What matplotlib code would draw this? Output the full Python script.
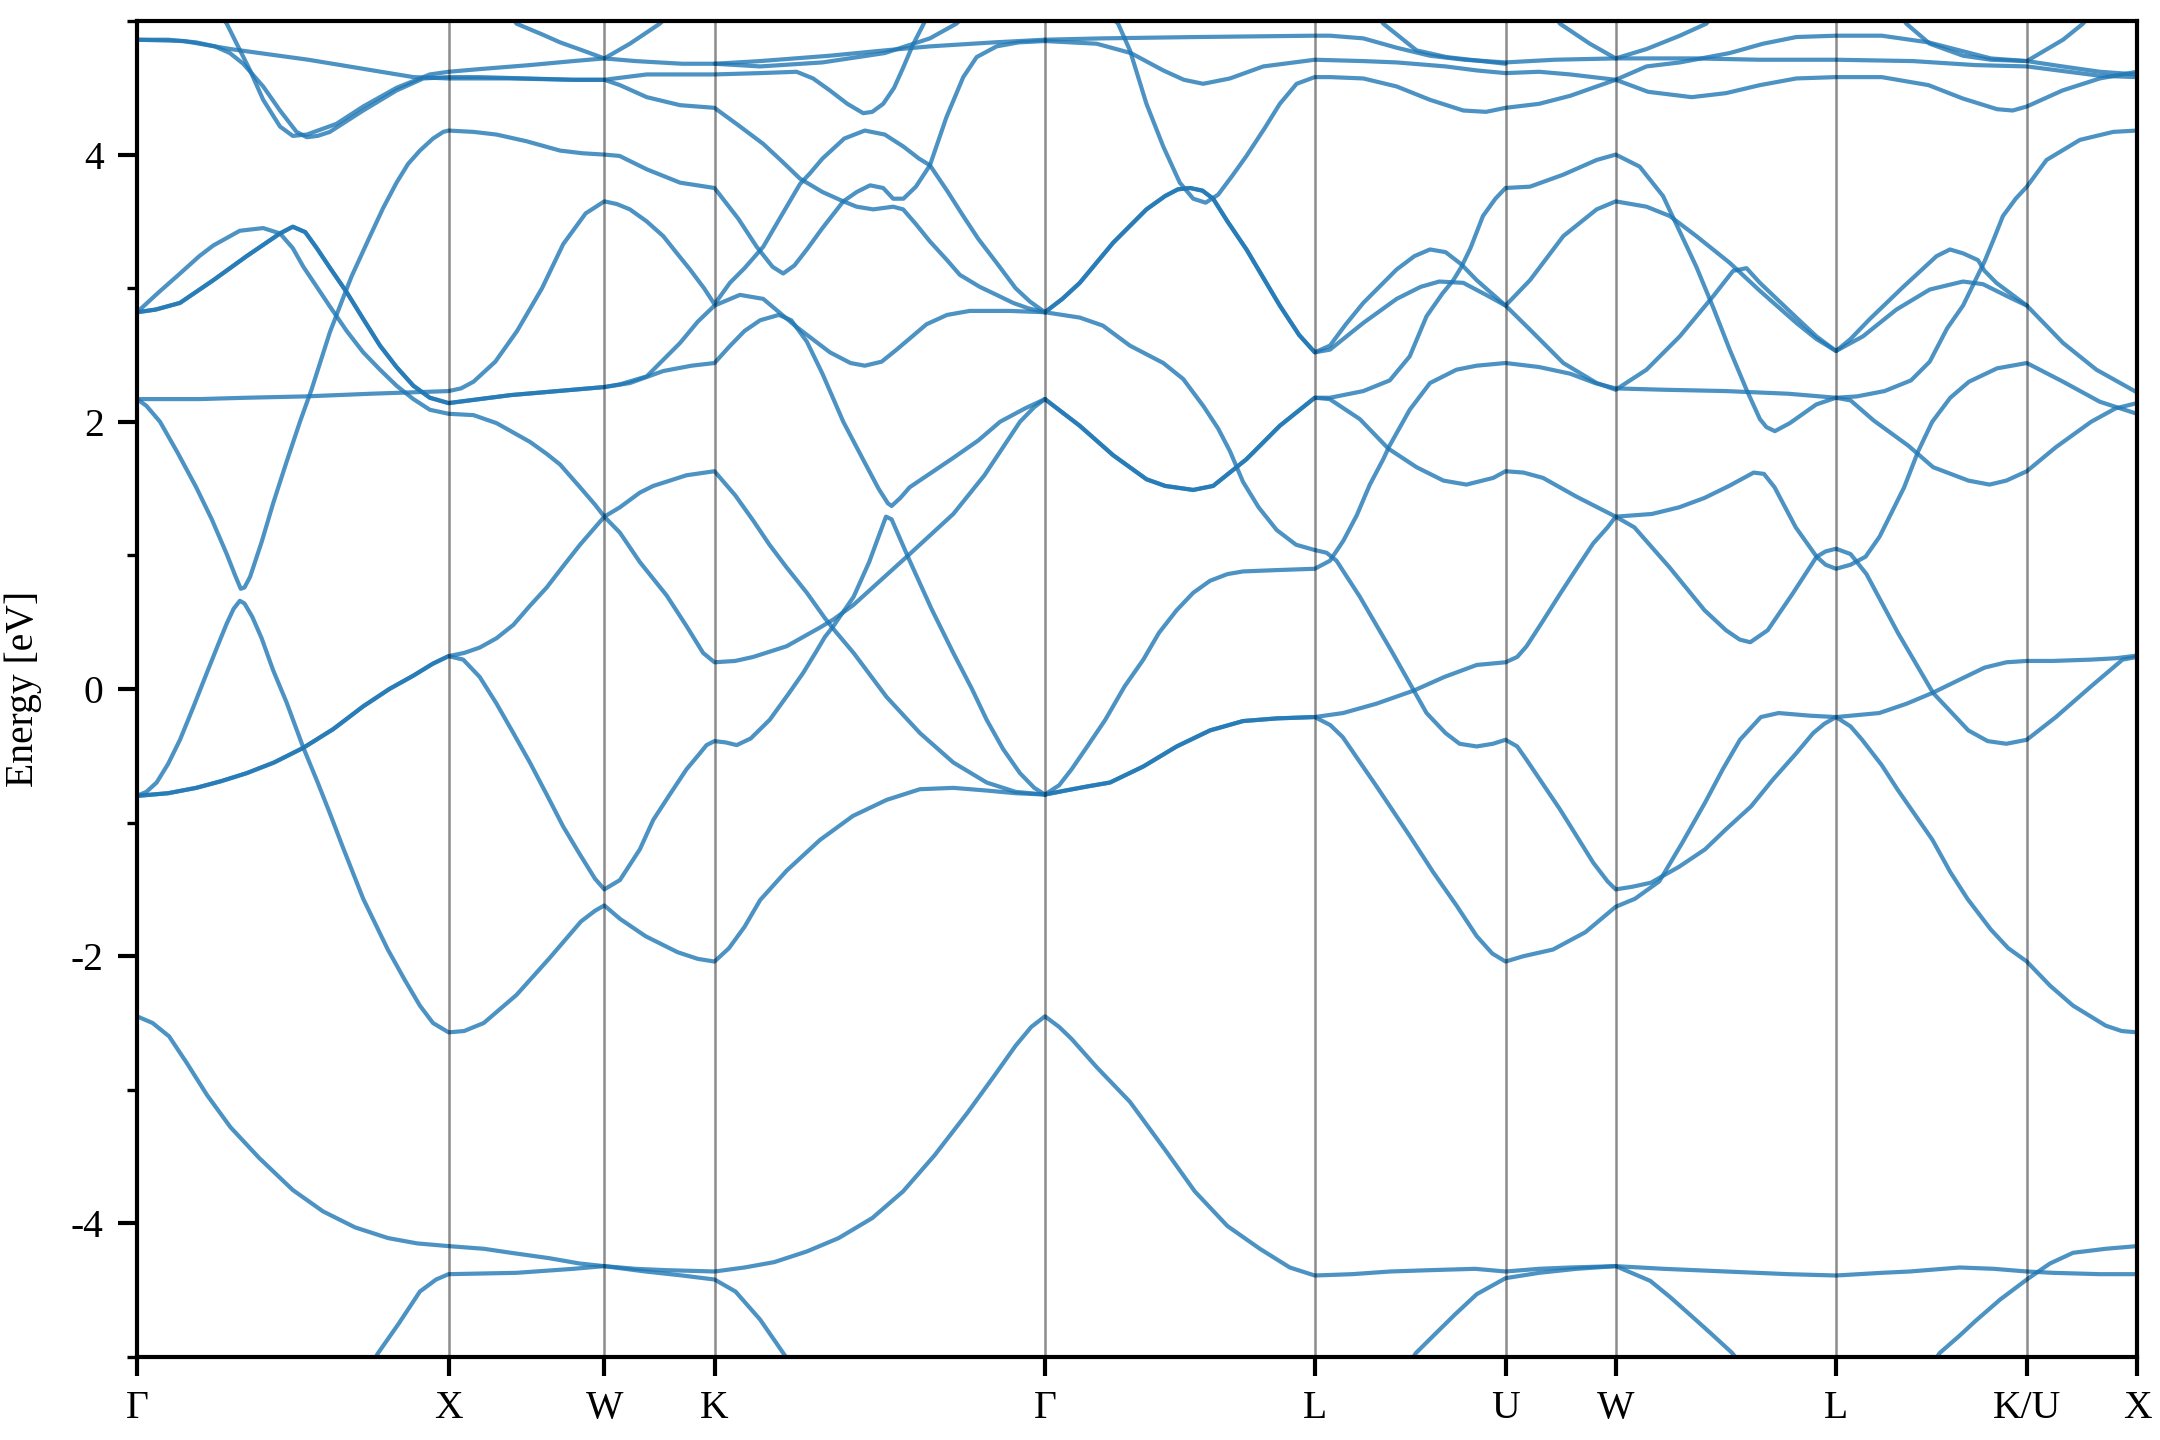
import matplotlib
matplotlib.use("Agg")
import matplotlib.pyplot as plt
from matplotlib.ticker import MultipleLocator

plt.rcParams['font.family'] = ['Liberation Serif', 'DejaVu Serif']
plt.rcParams['axes.unicode_minus'] = False

# ---------------- high-symmetry path ----------------
hs_labels = ["Γ", "X", "W", "K", "Γ", "L", "U", "W", "L", "K/U", "X"]
hs_k = [0.0, 1.0, 1.5, 1.8536, 2.9142, 3.7802, 4.3926, 4.7462, 5.4533, 6.0657, 6.4193]

# ---------------- band data: (k, E) ----------------
# lowest (s-like) band over the whole path
s_band = [(0.0,-2.45),(0.05,-2.5),(0.103,-2.6),(0.16,-2.8),(0.225,-3.04),(0.3,-3.28),(0.392,-3.51),(0.5,-3.75),
          (0.597,-3.91),(0.7,-4.03),(0.806,-4.11),(0.9,-4.15),(1.0,-4.17),
          (1.113,-4.19),(1.2,-4.22),(1.322,-4.26),(1.42,-4.3),(1.5,-4.32),
          (1.6,-4.34),(1.7,-4.35),(1.8536,-4.36),
          (1.95,-4.33),(2.045,-4.29),(2.15,-4.21),(2.252,-4.11),(2.36,-3.96),(2.459,-3.76),(2.56,-3.49),
          (2.666,-3.17),(2.75,-2.9),(2.82,-2.67),(2.87,-2.53),(2.9142,-2.45),
          (2.96,-2.53),(3.0,-2.62),(3.08,-2.83),(3.187,-3.09),(3.3,-3.45),(3.395,-3.76),(3.5,-4.02),
          (3.604,-4.19),(3.7,-4.33),(3.7802,-4.39),
          (3.9,-4.38),(4.022,-4.36),(4.15,-4.35),(4.295,-4.34),(4.3926,-4.36),
          (4.5,-4.34),(4.6,-4.33),(4.7462,-4.32),
          (4.9,-4.34),(5.1,-4.36),(5.3,-4.38),(5.4533,-4.39),
          (5.6,-4.37),(5.69,-4.36),(5.85,-4.33),(5.96,-4.34),(6.0657,-4.36),
          (6.15,-4.37),(6.3,-4.38),(6.4193,-4.38)]
low_a = [(0.74,-5.1),(0.774,-4.97),(0.84,-4.75),(0.908,-4.51),(0.96,-4.42),(1.0,-4.38),(1.218,-4.37),(1.4,-4.34),
         (1.5,-4.32),(1.632,-4.36),(1.75,-4.39),(1.8536,-4.42),(1.921,-4.51),(2.0,-4.72),(2.077,-4.98),(2.1,-5.06)]
low_b = [(4.08,-5.06),(4.105,-4.97),(4.17,-4.82),(4.231,-4.68),(4.3,-4.53),(4.3926,-4.41),(4.5,-4.37),(4.62,-4.34),
         (4.7462,-4.32),(4.857,-4.43),(4.92,-4.55),(4.983,-4.68),(5.05,-4.82),(5.12,-4.97),(5.14,-5.03)]
low_c = [(5.76,-5.06),(5.786,-4.97),(5.85,-4.84),(5.901,-4.73),(5.98,-4.57),(6.0657,-4.42),(6.14,-4.3),(6.214,-4.22),
         (6.319,-4.19),(6.4193,-4.17)]

# Gamma-X
gx_lambda = [(0.0,-0.8),(0.03,-0.77),(0.063,-0.70),(0.1,-0.56),(0.138,-0.38),(0.18,-0.14),(0.224,0.12),(0.26,0.33),
             (0.288,0.49),(0.31,0.6),(0.33,0.66),(0.345,0.64),(0.37,0.54),(0.4,0.38),(0.437,0.14),(0.48,-0.1),
             (0.534,-0.44),(0.58,-0.7),(0.619,-0.93),(0.66,-1.18),(0.726,-1.57),(0.805,-1.95),(0.86,-2.18),
             (0.908,-2.37),(0.95,-2.5),(1.0,-2.57)]
gx_b1 = [(0.0,-0.8),(0.1,-0.78),(0.19,-0.74),(0.27,-0.69),(0.352,-0.63),(0.44,-0.55),(0.534,-0.44),(0.63,-0.3),
         (0.726,-0.13),(0.81,0.0),(0.887,0.10),(0.95,0.19),(1.0,0.246)]
gx_v = [(0.0,2.17),(0.03,2.12),(0.074,2.0),(0.13,1.77),(0.19,1.51),(0.24,1.27),(0.288,1.01),(0.315,0.85),(0.333,0.75),
        (0.345,0.76),(0.363,0.84),(0.4,1.1),(0.437,1.39),(0.48,1.7),(0.523,2.0),(0.56,2.24),(0.619,2.67),(0.662,2.93),
        (0.689,3.09),(0.748,3.39),(0.79,3.6),(0.833,3.79),(0.87,3.93),(0.908,4.03),(0.95,4.12),(0.983,4.17),(1.0,4.18)]
gx_flat = [(0.0,2.17),(0.2,2.17),(0.35,2.18),(0.539,2.19),(0.75,2.21),(1.0,2.23)]
gx_i = [(0.0,2.82),(0.07,2.97),(0.138,3.11),(0.2,3.24),(0.245,3.32),(0.33,3.43),(0.405,3.45),(0.459,3.41),(0.5,3.3),
        (0.534,3.16),(0.58,3.0),(0.62,2.86),(0.673,2.68),(0.726,2.52),(0.78,2.39),(0.833,2.27),(0.887,2.17),
        (0.94,2.09),(1.0,2.06)]
gx_ii = [(0.0,2.82),(0.06,2.84),(0.138,2.89),(0.245,3.06),(0.352,3.24),(0.459,3.41),(0.5,3.46),(0.54,3.42),
         (0.577,3.3),(0.62,3.15),(0.673,2.97),(0.726,2.77),(0.78,2.57),(0.833,2.41),(0.887,2.27),(0.94,2.18),(1.0,2.14)]
gx_t1 = [(0.0,4.86),(0.15,4.85),(0.3,4.79),(0.55,4.71),(0.887,4.58),(1.0,4.57)]
gx_t2 = [(0.0,4.86),(0.1,4.86),(0.19,4.84),(0.25,4.81),(0.298,4.76),(0.341,4.68),(0.405,4.51),(0.459,4.33),
         (0.512,4.17),(0.545,4.13),(0.58,4.14),(0.619,4.17),(0.726,4.33),(0.833,4.48),(0.919,4.57),(1.0,4.58)]
gx_t3 = [(0.25,5.1),(0.288,4.98),(0.32,4.83),(0.363,4.63),(0.405,4.41),(0.459,4.21),(0.5,4.14),(0.545,4.15),
         (0.64,4.23),(0.726,4.36),(0.833,4.5),(0.94,4.6),(1.0,4.62)]

# X-W
xw_lambda = [(1.05,-2.56),(1.113,-2.5),(1.218,-2.29),(1.322,-2.02),(1.425,-1.74),(1.47,-1.66),(1.5,-1.62)]
xw_up = [(1.05,0.27),(1.1,0.31),(1.154,0.38),(1.208,0.48),(1.26,0.62),(1.315,0.76),(1.368,0.92),(1.422,1.08),(1.5,1.29)]
xw_down = [(1.047,0.22),(1.1,0.09),(1.154,-0.11),(1.208,-0.33),(1.261,-0.55),(1.315,-0.79),(1.368,-1.03),
           (1.422,-1.24),(1.47,-1.42),(1.5,-1.5)]
xw_i = [(1.08,2.05),(1.154,1.99),(1.261,1.85),(1.315,1.76),(1.358,1.68),(1.422,1.51),(1.47,1.38),(1.5,1.29)]
xw_ii = [(1.1,2.17),(1.2,2.2),(1.3,2.22),(1.4,2.24),(1.5,2.26)]
xw_steep = [(1.04,2.25),(1.08,2.3),(1.15,2.45),(1.22,2.68),(1.3,3.0),(1.368,3.33),(1.44,3.56),(1.5,3.65)]
xw_four = [(1.08,4.17),(1.154,4.15),(1.25,4.1),(1.358,4.03),(1.43,4.01),(1.5,4.0)]
xw_t1 = [(1.2,4.57),(1.4,4.56),(1.5,4.56)]
xw_t2 = [(1.1,4.58),(1.25,4.57),(1.4,4.56),(1.5,4.56)]
xw_t3 = [(1.1,4.64),(1.261,4.67),(1.4,4.7),(1.5,4.72)]
xw_top = [(1.2,5.05),(1.218,4.98),(1.3,4.9),(1.358,4.84),(1.43,4.78),(1.5,4.72),(1.582,4.83),(1.678,4.98),(1.7,5.03)]

# W-K
wk_lambda = [(1.55,-1.72),(1.632,-1.85),(1.735,-1.97),(1.8,-2.02),(1.8536,-2.04)]
wk_up = [(1.55,1.36),(1.614,1.47),(1.657,1.52),(1.764,1.60),(1.8536,1.63)]
wk_down = [(1.55,-1.43),(1.614,-1.2),(1.657,-0.98),(1.71,-0.79),(1.764,-0.6),(1.8,-0.5),(1.828,-0.42),(1.8536,-0.39)]
wk_i = [(1.55,1.17),(1.614,0.95),(1.7,0.7),(1.764,0.47),(1.817,0.27),(1.8536,0.2)]
wk_ii_a = [(1.582,2.29),(1.689,2.38),(1.78,2.42),(1.8536,2.44)]
wk_ii_b = [(1.55,2.28),(1.636,2.34),(1.743,2.59),(1.8,2.75),(1.8536,2.87)]
wk_steep = [(1.54,3.63),(1.582,3.59),(1.636,3.5),(1.689,3.39),(1.73,3.27),(1.775,3.14),(1.82,3.0),(1.8536,2.88)]
wk_four = [(1.549,3.99),(1.636,3.89),(1.743,3.79),(1.8536,3.75)]
wk_t1 = [(1.636,4.6),(1.743,4.6),(1.8536,4.6)]
wk_t2 = [(1.55,4.52),(1.636,4.43),(1.743,4.37),(1.8536,4.35)]
wk_t3 = [(1.6,4.70),(1.75,4.68),(1.8536,4.68)]

# K-Gamma
kg_lambda = [(1.9,-1.94),(1.95,-1.78),(2.0,-1.58),(2.085,-1.36),(2.192,-1.13),(2.298,-0.95),(2.406,-0.83),
             (2.513,-0.75),(2.62,-0.74),(2.727,-0.76),(2.82,-0.78),(2.9142,-0.79)]
kg_d1 = [(1.92,1.45),(1.978,1.26),(2.03,1.08),(2.085,0.91),(2.15,0.72),(2.208,0.53),(2.235,0.45),(2.3,0.27),
         (2.406,-0.06),(2.513,-0.33),(2.62,-0.55),(2.727,-0.70),(2.82,-0.77),(2.9142,-0.79)]
kg_d2 = [(1.92,0.21),(1.978,0.24),(2.085,0.32),(2.192,0.46),(2.235,0.52),(2.3,0.63),(2.352,0.74),(2.48,1.01),
         (2.62,1.31),(2.72,1.6),(2.834,2.0),(2.88,2.11),(2.9142,2.17)]
kg_d3 = [(1.89,-0.4),(1.925,-0.42),(1.97,-0.37),(2.031,-0.23),(2.09,-0.04),(2.138,0.12),(2.18,0.28),(2.208,0.39),
         (2.235,0.47),(2.3,0.69),(2.35,0.95),(2.38,1.14),(2.404,1.29),(2.422,1.27),(2.48,0.96),(2.55,0.6),
         (2.62,0.27),(2.68,0.0),(2.727,-0.23),(2.78,-0.45),(2.834,-0.63),(2.88,-0.74),(2.9142,-0.79)]
kg_d4 = [(1.9,2.56),(1.95,2.68),(2.0,2.76),(2.06,2.8),(2.1,2.76),(2.15,2.6),(2.2,2.36),(2.267,2.0),(2.33,1.72),
         (2.38,1.5),(2.41,1.39),(2.422,1.37),(2.45,1.43),(2.48,1.51),(2.55,1.62),(2.62,1.73),(2.7,1.86),(2.77,2.0),
         (2.85,2.1),(2.9142,2.17)]
kg_dip = [(1.935,2.95),(2.01,2.92),(2.117,2.71),(2.224,2.52),(2.29,2.44),(2.336,2.42),(2.39,2.45),(2.438,2.54),
          (2.534,2.73),(2.6,2.8),(2.673,2.83),(2.8,2.83),(2.9142,2.82)]
kg_c1 = [(1.93,4.22),(2.01,4.08),(2.07,3.95),(2.128,3.82),(2.2,3.72),(2.267,3.65),(2.31,3.61),(2.363,3.59),
         (2.427,3.61),(2.459,3.59),(2.5,3.48),(2.545,3.35),(2.6,3.21),(2.641,3.1),(2.705,3.01),(2.759,2.95),
         (2.812,2.89),(2.86,2.85),(2.9142,2.82)]
kg_c2 = [(1.903,3.04),(1.95,3.15),(2.01,3.31),(2.07,3.55),(2.128,3.78),(2.16,3.86),(2.2,3.97),(2.27,4.12),
         (2.336,4.18),(2.40,4.15),(2.46,4.06),(2.51,3.97),(2.545,3.92),(2.6,3.73),(2.652,3.54),(2.7,3.37),
         (2.759,3.19),(2.82,3.0),(2.866,2.9),(2.9142,2.82)]
kg_c3 = [(1.93,3.52),(1.989,3.31),(2.04,3.16),(2.074,3.11),(2.11,3.17),(2.15,3.29),(2.2,3.45),(2.267,3.65),
         (2.31,3.72),(2.353,3.77),(2.395,3.75),(2.427,3.67),(2.46,3.67),(2.5,3.76),(2.545,3.92),(2.598,4.28),
         (2.652,4.58),(2.695,4.73),(2.759,4.81),(2.83,4.84),(2.9142,4.85)]
kg_l5 = [(2.0,4.70),(2.223,4.74),(2.4,4.78),(2.545,4.81),(2.75,4.84),(2.9142,4.86)]
kg_l9 = [(2.0,4.61),(2.117,4.62),(2.17,4.57),(2.224,4.48),(2.28,4.38),(2.331,4.31),(2.36,4.32),(2.395,4.38),
         (2.43,4.5),(2.459,4.65),(2.49,4.82),(2.523,4.97),(2.54,5.05)]
kg_l6 = [(1.8536,4.68),(2.0,4.66),(2.2,4.69),(2.4,4.76),(2.545,4.87),(2.63,4.98),(2.66,5.05)]

# Gamma-L
gl_thick = [(2.9142,-0.79),(2.98,-0.76),(3.049,-0.73),(3.123,-0.70),(3.23,-0.58),(3.337,-0.43),(3.444,-0.31),
            (3.55,-0.24),(3.658,-0.22),(3.7802,-0.21)]
gl_up = [(2.9142,-0.79),(2.96,-0.72),(3.0,-0.6),(3.05,-0.43),(3.108,-0.23),(3.17,0.02),(3.23,0.22),(3.28,0.42),
         (3.337,0.59),(3.39,0.72),(3.444,0.81),(3.5,0.86),(3.55,0.88),(3.658,0.89),(3.7802,0.9)]
gl_dip = [(2.9142,2.17),(2.97,2.07),(3.026,1.97),(3.133,1.75),(3.24,1.57),(3.3,1.52),(3.39,1.49),(3.454,1.52),
          (3.561,1.72),(3.668,1.97),(3.7802,2.18)]
gl_down = [(2.9142,2.82),(3.026,2.78),(3.1,2.72),(3.187,2.57),(3.294,2.44),(3.358,2.32),(3.422,2.12),(3.47,1.95),
           (3.508,1.78),(3.55,1.55),(3.6,1.36),(3.658,1.19),(3.72,1.08),(3.7802,1.04)]
gl_lambda = [(2.9142,2.82),(2.97,2.92),(3.026,3.04),(3.133,3.34),(3.24,3.59),(3.3,3.69),(3.341,3.74),(3.38,3.75),
             (3.42,3.73),(3.454,3.67),(3.5,3.5),(3.561,3.29),(3.668,2.87),(3.73,2.65),(3.7802,2.52)]
gl_v = [(3.12,5.05),(3.149,4.98),(3.187,4.78),(3.24,4.38),(3.294,4.06),(3.347,3.79),(3.39,3.67),(3.43,3.64),
        (3.47,3.70),(3.515,3.84),(3.561,3.99),(3.62,4.2),(3.668,4.38),(3.722,4.53),(3.7802,4.58)]
gl_t2 = [(2.9142,4.85),(3.08,4.83),(3.19,4.76),(3.294,4.63),(3.36,4.56),(3.422,4.53),(3.508,4.57),(3.615,4.66),
         (3.7802,4.71)]
gl_t1 = [(2.9142,4.86),(3.1,4.87),(3.4,4.88),(3.7802,4.89)]

# L-U
lu_down = [(3.83,-0.27),(3.87,-0.36),(3.979,-0.73),(4.085,-1.1),(4.16,-1.37),(4.235,-1.62),(4.3,-1.85),
           (4.35,-1.98),(4.3926,-2.04)]
lu_up = [(3.871,-0.18),(3.978,-0.11),(4.1,-0.01),(4.196,0.09),(4.3,0.18),(4.3926,0.2)]
lu_e3 = [(3.829,0.96),(3.872,1.11),(3.915,1.3),(3.957,1.53),(4.0,1.72),(4.02,1.82),(4.085,2.09),(4.15,2.29),
         (4.235,2.39),(4.3,2.42),(4.3926,2.44)]
lu_c = [(3.818,1.02),(3.85,0.96),(3.925,0.69),(4.03,0.27),(4.139,-0.18),(4.2,-0.33),(4.245,-0.41),(4.3,-0.43),
        (4.352,-0.41),(4.3926,-0.38)]
lu_f1 = [(3.828,2.17),(3.925,2.02),(4.016,1.8),(4.107,1.66),(4.193,1.56),(4.267,1.53),(4.353,1.58),(4.3926,1.63)]
lu_g1 = [(3.829,2.18),(3.936,2.23),(4.021,2.31),(4.085,2.49),(4.139,2.79),(4.19,2.96),(4.225,3.06),(4.251,3.16),
         (4.28,3.3),(4.32,3.54),(4.36,3.67),(4.3926,3.75)]
lu_e1 = [(3.829,2.57),(3.88,2.73),(3.936,2.89),(4.043,3.14),(4.1,3.24),(4.15,3.29),(4.2,3.27),(4.25,3.18),
         (4.3,3.06),(4.3926,2.87)]
lu_e2 = [(3.829,2.54),(3.936,2.74),(4.043,2.92),(4.12,3.01),(4.18,3.05),(4.257,3.04),(4.33,2.95),(4.3926,2.87)]
lu_t3 = [(3.829,4.58),(3.936,4.57),(4.043,4.51),(4.15,4.41),(4.257,4.33),(4.33,4.32),(4.3926,4.35)]
lu_t2 = [(3.936,4.70),(4.043,4.69),(4.2,4.66),(4.3,4.63),(4.3926,4.61)]
lu_t1 = [(3.829,4.89),(3.936,4.87),(4.043,4.8),(4.15,4.74),(4.26,4.71),(4.3926,4.69)]
lu_top = [(3.98,5.05),(4.0,4.98),(4.043,4.9),(4.107,4.78),(4.203,4.73),(4.3926,4.68)]

# U-W
uw_lambda = [(4.45,-2.0),(4.545,-1.95),(4.649,-1.82),(4.7462,-1.63)]
uw_up = [(4.43,0.24),(4.46,0.32),(4.51,0.5),(4.567,0.71),(4.62,0.9),(4.674,1.09),(4.72,1.21),(4.7462,1.29)]
uw_e3 = [(4.5,2.41),(4.6,2.36),(4.68,2.29),(4.7462,2.25)]
uw_c = [(4.43,-0.43),(4.46,-0.53),(4.567,-0.9),(4.674,-1.3),(4.72,-1.44),(4.7462,-1.5)]
uw_f1 = [(4.45,1.62),(4.513,1.58),(4.62,1.44),(4.7462,1.29)]
uw_g1 = [(4.471,3.76),(4.578,3.85),(4.685,3.96),(4.7462,4.0)]
uw_e1 = [(4.471,3.06),(4.578,3.39),(4.685,3.59),(4.7462,3.65)]
uw_e2 = [(4.471,2.69),(4.578,2.44),(4.685,2.29),(4.7462,2.24)]
uw_t3 = [(4.5,4.38),(4.6,4.44),(4.7462,4.56)]
uw_t2 = [(4.5,4.62),(4.6,4.6),(4.7462,4.56)]
uw_t1 = [(4.55,4.71),(4.7462,4.72)]
uw_top = [(4.55,5.05),(4.567,4.98),(4.663,4.83),(4.7462,4.72),(4.845,4.79),(4.952,4.89),(5.037,4.98),(5.06,5.05)]

# W-L
wl_fast = [(4.808,-1.57),(4.886,-1.44),(4.96,-1.15),(5.033,-0.85),(5.09,-0.6),(5.145,-0.38),(5.212,-0.21),
           (5.269,-0.18),(5.371,-0.2),(5.4533,-0.21)]
wl_peak = [(4.862,1.31),(4.95,1.36),(5.031,1.43),(5.11,1.52),(5.189,1.62),(5.222,1.61),(5.256,1.51),(5.29,1.36),
           (5.324,1.21),(5.391,0.99),(5.42,0.93),(5.4533,0.9)]
wl_flat = [(4.9,2.24),(5.1,2.23),(5.3,2.21),(5.4533,2.18)]
wl_slow = [(4.8,-1.48),(4.859,-1.45),(4.95,-1.33),(5.033,-1.2),(5.1,-1.05),(5.18,-0.88),(5.25,-0.68),(5.326,-0.48),
           (5.38,-0.33),(5.416,-0.26),(5.4533,-0.21)]
wl_min = [(4.806,1.21),(4.919,0.91),(5.031,0.59),(5.1,0.44),(5.144,0.37),(5.178,0.35),(5.234,0.44),(5.313,0.71),
          (5.391,0.99),(5.42,1.03),(5.4533,1.05)]
wl_g1 = [(4.823,3.91),(4.898,3.69),(5.005,3.16),(5.06,2.85),(5.112,2.54),(5.166,2.24),(5.209,2.02),(5.23,1.96),
         (5.257,1.93),(5.305,1.99),(5.39,2.13),(5.4533,2.18)]
wl_e1 = [(4.845,3.61),(4.92,3.54),(5.005,3.39),(5.112,3.19),(5.209,2.98),(5.326,2.74),(5.39,2.62),(5.4533,2.53)]
wl_e2 = [(4.845,2.39),(4.952,2.64),(5.059,2.94),(5.123,3.13),(5.166,3.15),(5.209,3.04),(5.326,2.78),(5.39,2.64),
         (5.4533,2.53)]
wl_t3 = [(4.85,4.47),(4.99,4.43),(5.1,4.46),(5.209,4.52),(5.326,4.57),(5.4533,4.58)]
wl_t2 = [(4.845,4.66),(4.952,4.69),(5.112,4.76),(5.219,4.83),(5.326,4.88),(5.4533,4.89)]
wl_t1 = [(5.0,4.72),(5.209,4.71),(5.4533,4.71)]

# L-K/U and K/U-X
lk_down = [(5.5,-0.28),(5.537,-0.38),(5.6,-0.57),(5.65,-0.75),(5.763,-1.13),(5.82,-1.37),(5.875,-1.57),
           (5.95,-1.8),(6.006,-1.94),(6.0657,-2.04),(6.14,-2.22),(6.214,-2.37),(6.319,-2.52),(6.37,-2.56),(6.4193,-2.57)]
lk_e3 = [(5.5,0.93),(5.548,0.99),(5.593,1.14),(5.672,1.51),(5.717,1.78),(5.762,2.0),(5.82,2.18),(5.88,2.3),
         (5.97,2.4),(6.0657,2.44),(6.182,2.3),(6.3,2.15),(6.4193,2.06)]
lk_f1 = [(5.5,2.16),(5.574,2.01),(5.686,1.82),(5.765,1.66),(5.878,1.56),(5.946,1.53),(6.0,1.56),(6.0657,1.63),
         (6.159,1.81),(6.272,2.0),(6.35,2.1),(6.4193,2.14)]
lk_up = [(5.5,-0.2),(5.592,-0.18),(5.68,-0.11),(5.762,-0.03),(5.85,0.07),(5.93,0.16),(6.0,0.2),(6.0657,0.21),
         (6.15,0.21),(6.272,0.22),(6.35,0.23),(6.4193,0.25)]
lk_c = [(5.5,1.01),(5.551,0.86),(5.652,0.42),(5.765,-0.03),(5.878,-0.31),(5.94,-0.39),(6.0,-0.41),(6.0657,-0.38),
        (6.159,-0.21),(6.272,0.02),(6.373,0.22),(6.4193,0.24)]
lk_g1 = [(5.52,2.19),(5.609,2.23),(5.694,2.31),(5.754,2.45),(5.81,2.7),(5.861,2.87),(5.909,3.1),(5.93,3.2),
         (5.96,3.37),(5.989,3.54),(6.03,3.67),(6.0657,3.76),(6.129,3.96),(6.236,4.11),(6.343,4.17),(6.4193,4.18)]
lk_e1 = [(5.5,2.62),(5.562,2.77),(5.669,3.01),(5.776,3.24),(5.819,3.29),(5.862,3.26),(5.909,3.21),(5.93,3.13),
         (5.968,3.04),(6.0657,2.87),(6.182,2.59),(6.289,2.39),(6.4193,2.22)]
lk_e2 = [(5.54,2.64),(5.647,2.84),(5.754,2.99),(5.861,3.05),(5.925,3.03),(6.02,2.92),(6.0657,2.87)]
lk_t3 = [(5.6,4.58),(5.75,4.52),(5.86,4.42),(5.97,4.34),(6.02,4.33),(6.0657,4.36),(6.18,4.48),(6.3,4.57),(6.4193,4.62)]
lk_t2 = [(5.6,4.89),(5.75,4.84),(5.85,4.78),(5.95,4.72),(6.0657,4.70),(6.18,4.66),(6.3,4.62),(6.4193,4.60)]
lk_t1 = [(5.7,4.70),(5.9,4.67),(6.0657,4.66),(6.2,4.62),(6.3,4.59),(6.4193,4.58)]
lk_top = [(5.66,5.05),(5.679,4.98),(5.754,4.83),(5.861,4.74),(5.95,4.71),(6.0657,4.70),(6.182,4.86),(6.246,4.98),
          (6.27,5.05)]

# ---------------- continuous curves built from the pieces ----------------
curves = [
    s_band, low_a, low_b, low_c,
    gx_lambda + xw_lambda + wk_lambda + kg_lambda,
    gx_b1 + xw_up + wk_up + kg_d1,
    gx_b1 + xw_down + wk_down + kg_d3,
    gl_thick + lu_down + uw_lambda + wl_fast + lk_down,
    gl_thick + lu_up + uw_up + wl_peak + lk_e3,
    gl_up + lu_e3 + uw_e3 + wl_flat + lk_f1,
    gl_down + lu_c + uw_c + wl_slow + lk_up,
    gl_dip + lu_f1 + uw_f1 + wl_min + lk_c,
    gl_dip + lu_g1 + uw_g1 + wl_g1 + lk_g1,
    gl_lambda + lu_e1 + uw_e1 + wl_e1 + lk_e1,
    gl_lambda + lu_e2 + uw_e2 + wl_e2 + lk_e2,
    gl_v + lu_t3 + uw_t3 + wl_t3 + lk_t3,
    gl_t2 + lu_t2 + uw_t2 + wl_t2 + lk_t2,
    gl_t1 + lu_t1 + uw_t1 + wl_t1 + lk_t1,
    lu_top, uw_top, lk_top,
    gx_v + xw_four + wk_four + kg_c3,
    gx_flat + xw_steep + wk_steep + kg_c2,
    gx_i + xw_i + wk_i + kg_d2,
    gx_ii + xw_ii + wk_ii_a + kg_d4,
    gx_ii + xw_ii + wk_ii_b + kg_dip,
    gx_t2 + xw_t2 + wk_t2 + kg_c1,
    gx_t3 + xw_t3 + wk_t3 + kg_l5,
    gx_t1 + xw_t1 + wk_t1 + kg_l9,
    xw_top, kg_l6,
]

# ---------------- plot ----------------
fig = plt.figure(figsize=(7.2, 4.8), dpi=300)
ax = fig.add_axes([137/2160, 1 - 1357/1440, 2000/2160, 1336/1440])

for pts in curves:
    k = [p[0] for p in pts]
    e = [p[1] for p in pts]
    ax.plot(k, e, color='#1f77b4', alpha=0.8, lw=1.0,
            solid_joinstyle='round', solid_capstyle='round', zorder=2)

for kv in hs_k[1:-1]:
    ax.axvline(kv, color='k', alpha=0.45, lw=0.6, zorder=3)

ax.set_xlim(hs_k[0], hs_k[-1])
ax.set_ylim(-5, 5)
ax.set_xticks(hs_k)
ax.set_xticklabels(hs_labels)
ax.yaxis.set_major_locator(MultipleLocator(2))
ax.yaxis.set_minor_locator(MultipleLocator(1))
ax.tick_params(axis='both', which='major', direction='out', length=4.5, width=1.0, labelsize=9.5)
ax.tick_params(axis='y', which='minor', direction='out', length=2.5, width=0.8)
for sp in ax.spines.values():
    sp.set_linewidth(1.0)
ax.set_ylabel("Energy [eV]", fontsize=9.5, labelpad=7)

fig.savefig("out.png", dpi=300, facecolor='white')
